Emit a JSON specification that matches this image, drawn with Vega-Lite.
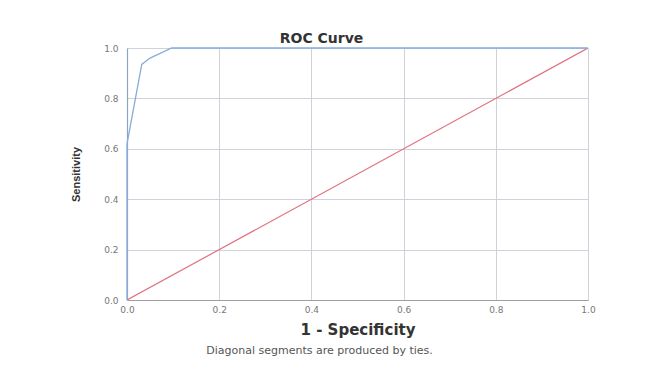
{
  "$schema": "https://vega.github.io/schema/vega-lite/v6.json",
  "autosize": "none",
  "width": 461,
  "height": 252,
  "padding": {"left": 127, "top": 48, "right": 75, "bottom": 73},
  "background": "white",
  "config": {"view": {"stroke": null}},
  "title": {
    "text": "Diagonal segments are produced by ties.",
    "orient": "bottom",
    "dx": -38,
    "offset": 8,
    "font": "DejaVu Sans",
    "fontSize": 11,
    "fontWeight": "normal",
    "color": "#555555"
  },
  "datasets": {
    "roc": [
      {"fpr": 0.0, "tpr": 0.0, "order": 1},
      {"fpr": 0.0, "tpr": 0.62, "order": 2},
      {"fpr": 0.032, "tpr": 0.935, "order": 3},
      {"fpr": 0.05, "tpr": 0.96, "order": 4},
      {"fpr": 0.097, "tpr": 1.0, "order": 5},
      {"fpr": 1.0, "tpr": 1.0, "order": 6}
    ],
    "diag": [
      {"fpr": 0.0, "tpr": 0.0},
      {"fpr": 1.0, "tpr": 1.0}
    ]
  },
  "layer": [
    {
      "data": {"name": "diag"},
      "mark": {"type": "line", "color": "#e0707f", "strokeWidth": 1.2, "clip": true},
      "encoding": {
        "x": {
          "field": "fpr", "type": "quantitative",
          "scale": {"domain": [0, 1], "nice": false, "zero": false},
          "axis": {
            "orient": "top", "title": "ROC Curve", "labels": false, "ticks": false,
            "domain": false, "grid": false,
            "titleFont": "DejaVu Sans", "titleFontSize": 14, "titleFontWeight": "bold",
            "titleColor": "#333333", "titlePadding": 3, "titleX": 194
          }
        },
        "y": {
          "field": "tpr", "type": "quantitative",
          "scale": {"domain": [0, 1], "nice": false},
          "axis": {
            "title": "Sensitivity", "values": [0, 0.2, 0.4, 0.6, 0.8, 1.0], "format": ".1f",
            "ticks": false, "labelPadding": 9, "labelFont": "DejaVu Sans", "labelFontSize": 9,
            "labelColor": "#777777", "domainColor": "#8fa4c4", "domainWidth": 1.2,
            "gridColor": "#cfd2da", "gridWidth": 1, "labelFlush": false,
            "titleFont": "Liberation Sans", "titleFontSize": 11, "titleFontWeight": "bold",
            "titleColor": "#333333", "titlePadding": 22
          }
        }
      }
    },
    {
      "data": {"name": "roc"},
      "mark": {"type": "line", "color": "#86acdc", "strokeWidth": 1.3},
      "encoding": {
        "x": {
          "field": "fpr", "type": "quantitative",
          "scale": {"domain": [0, 1], "nice": false, "zero": false},
          "axis": {
            "title": "1 - Specificity", "values": [0, 0.2, 0.4, 0.6, 0.8, 1.0], "format": ".1f",
            "ticks": false, "grid": true, "labelPadding": 5, "labelFont": "DejaVu Sans", "labelFontSize": 9,
            "labelColor": "#777777", "domainColor": "#a0a0a0", "domainWidth": 1.2,
            "gridColor": "#cfd2da", "gridWidth": 1, "labelFlush": false,
            "titleFont": "DejaVu Sans", "titleFontSize": 15, "titleFontWeight": "bold",
            "titleColor": "#333333", "titlePadding": 8
          }
        },
        "y": {"field": "tpr", "type": "quantitative"},
        "order": {"field": "order", "type": "quantitative"}
      }
    }
  ],
  "resolve": {"scale": {"x": "independent"}}
}
